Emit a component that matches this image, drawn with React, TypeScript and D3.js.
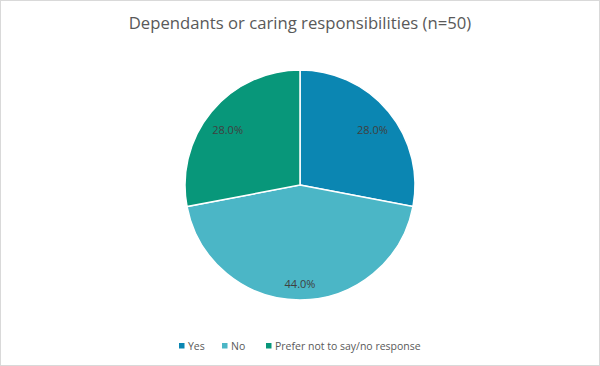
import React, { useEffect, useRef } from 'react';
import * as d3 from 'd3';

const categories = ['Yes', 'No', 'Prefer not to say/no response'];
const shares = [28.0, 44.0, 28.0];
const colors = ['#0B86B2', '#4BB6C6', '#08977A'];
const title = 'Dependants or caring responsibilities (n=50)';

const W = 600;
const H = 366;

const App: React.FC = () => {
  const svgRef = useRef<SVGSVGElement>(null);

  useEffect(() => {
    if (!svgRef.current) return;
    const svg = d3.select(svgRef.current);
    svg.selectAll('*').remove();

    const font = '"Open Sans", sans-serif';

    // background + border
    svg.append('rect')
      .attr('x', 0.5).attr('y', 0.5)
      .attr('width', W - 1).attr('height', H - 1)
      .attr('fill', '#fff')
      .attr('stroke', '#d9d9d9');

    // title
    svg.append('text')
      .attr('x', W / 2)
      .attr('y', 29)
      .attr('text-anchor', 'middle')
      .attr('font-family', font)
      .attr('font-size', 16.7)
      .attr('fill', '#595959')
      .text(title);

    const radius = 115;
    const g = svg.append('g').attr('transform', `translate(${300}, ${185})`);

    const pie = d3.pie<number>().sort(null).value(d => d);
    const arcs = pie(shares);
    const arc = d3.arc<d3.PieArcDatum<number>>().innerRadius(0).outerRadius(radius);
    const labelArc = d3.arc<d3.PieArcDatum<number>>().innerRadius(94).outerRadius(94);

    g.selectAll('path.slice')
      .data(arcs)
      .enter()
      .append('path')
      .attr('class', 'slice')
      .attr('d', arc)
      .attr('fill', (d, i) => colors[i])
      .attr('stroke', '#fff')
      .attr('stroke-width', 1.5);

    // labels sit a little below the centroid, like Excel's
    g.selectAll('text.lbl')
      .data(arcs)
      .enter()
      .append('text')
      .attr('class', 'lbl')
      .attr('transform', d => {
        const [x, y] = labelArc.centroid(d);
        return `translate(${x}, ${y + 5.5})`;
      })
      .attr('text-anchor', 'middle')
      .attr('dy', '0.35em')
      .attr('font-family', font)
      .attr('font-size', 11)
      .attr('fill', '#404040')
      .text(d => `${d.data.toFixed(1)}%`);

    // legend
    const legendX = [179, 222, 266];
    const legend = svg.append('g').attr('transform', 'translate(0, 346)');
    categories.forEach((c, i) => {
      legend.append('rect')
        .attr('x', legendX[i])
        .attr('y', -3)
        .attr('width', 5.5)
        .attr('height', 5.5)
        .attr('fill', colors[i]);
      legend.append('text')
        .attr('x', legendX[i] + 9)
        .attr('y', 0)
        .attr('dy', '0.35em')
        .attr('font-family', font)
        .attr('font-size', 10.5)
        .attr('fill', '#595959')
        .text(c);
    });
  }, []);

  return (
    <div style={{ position: 'absolute', left: 0, top: 0 }}>
      <svg ref={svgRef} width={W} height={H} style={{ display: 'block' }} />
    </div>
  );
};

export default App;
